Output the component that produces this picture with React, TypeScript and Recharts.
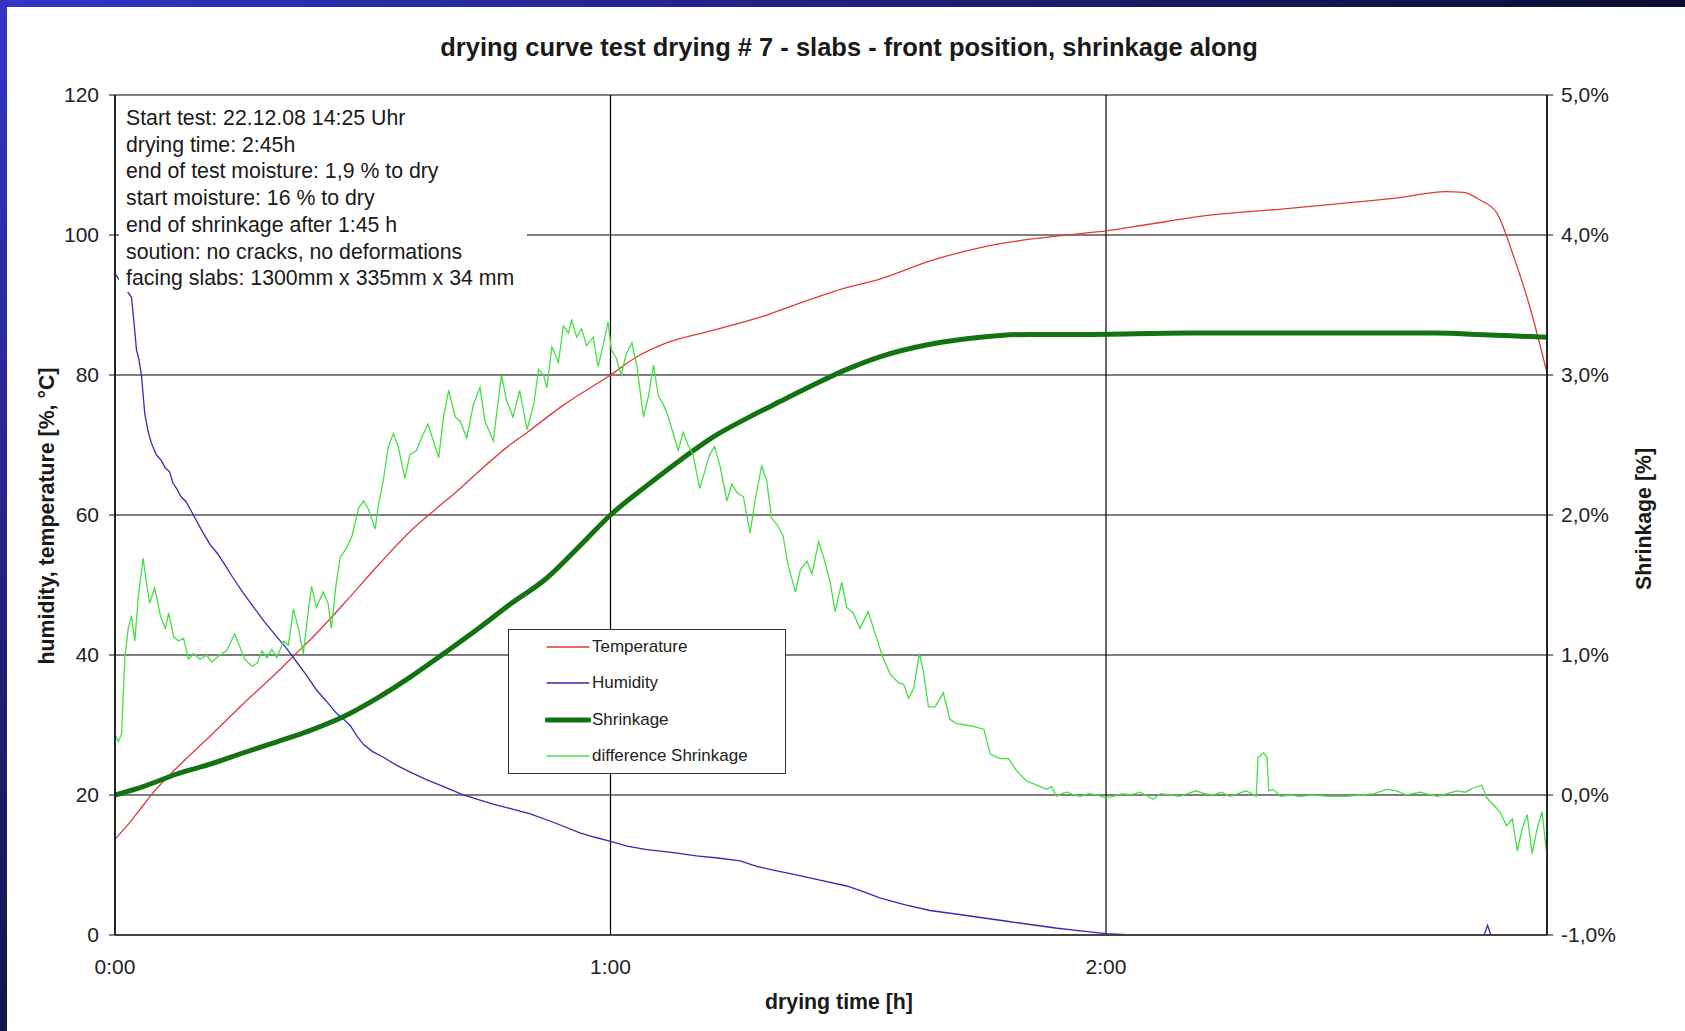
import React from 'react';
import { LineChart, Line, XAxis, YAxis, CartesianGrid, Legend } from 'recharts';

// Excel-style export of a drying test: temperature + humidity on the left
// axis, shrinkage (and its difference curve) on the right axis in percent.

const W = 1685;
const H = 1031;
const FONT = "'Liberation Sans', Arial, sans-serif";

const TEMP_COLOR = '#e03a3a';
const HUM_COLOR = '#2e2eb4';
const SHRINK_COLOR = '#137313';
const DIFF_COLOR = '#45e045';

const xTicks = [0, 60, 120];
const xTickLabels = ['0:00', '1:00', '2:00'];
const leftTicks = [0, 20, 40, 60, 80, 100, 120];
const rightTicks = [-1, 0, 1, 2, 3, 4, 5];
const rightTickLabels = ['-1,0%', '0,0%', '1,0%', '2,0%', '3,0%', '4,0%', '5,0%'];

const infoLines = [
  'Start test: 22.12.08 14:25 Uhr',
  'drying time: 2:45h',
  'end of test moisture: 1,9 % to dry',
  'start moisture: 16 % to dry',
  'end of shrinkage after 1:45 h',
  'soution: no cracks, no deformations',
  'facing slabs: 1300mm x 335mm x 34 mm',
];

// [minute, °C]
const temperature: [number, number][] = [
  [0, 13.7], [1.8, 16.1], [3.4, 18.5], [4.6, 20.3], [7.5, 23.9], [11.5, 28.4],
  [15.5, 33.0], [19.6, 37.5], [22.0, 40.3], [24.0, 42.6], [26.0, 45.1], [28.0, 47.7],
  [31.7, 52.6], [35.7, 57.6], [38.6, 60.6], [41.8, 63.8], [44.2, 66.4], [47.8, 70.0],
  [49.9, 71.8], [54.3, 75.7], [60.0, 80.0], [63.2, 82.6], [66.4, 84.4], [72.5, 86.4],
  [78.5, 88.4], [82.5, 90.1], [88.6, 92.5], [92.6, 93.7], [98.7, 96.3], [104.8, 98.2],
  [110.8, 99.4], [116.9, 100.2], [120.0, 100.6], [125.0, 101.5], [133.1, 102.9],
  [141.2, 103.7], [149.2, 104.6], [155.3, 105.3], [161.1, 106.2], [163.3, 106.1],
  [165.3, 105.0], [167.3, 103.2], [169.4, 96.8], [171.4, 89.4], [173.4, 80.3],
];

// [minute, %] (null = gap)
const humidity: [number, number | null][] = [
  [0, 94.5], [2.0, 91.1], [2.3, 87.5], [2.6, 83.6], [2.9, 82.2], [3.2, 80.0], [3.6, 74.5],
  [4.0, 72.0], [4.4, 70.3], [5.0, 68.6], [5.6, 67.8], [6.1, 66.7], [6.6, 66.2], [7.0, 64.6],
  [7.5, 63.7], [8.0, 62.6], [8.6, 61.9], [9.5, 60.0], [10.5, 57.8], [11.5, 55.8],
  [12.4, 54.5], [13.3, 52.9], [14.3, 51.0], [15.5, 48.9], [16.8, 46.8], [18.2, 44.6],
  [19.6, 42.6], [20.8, 40.9], [22.0, 39.0], [23.2, 37.1], [24.4, 35.0], [25.6, 33.4],
  [26.8, 31.7], [27.7, 30.8], [28.5, 29.9], [29.3, 28.4], [30.1, 27.2], [31.2, 26.2],
  [32.5, 25.4], [34.0, 24.3], [35.7, 23.3], [37.7, 22.2], [39.8, 21.2], [41.8, 20.2],
  [43.8, 19.4], [45.8, 18.7], [47.8, 18.1], [50.3, 17.3], [53.3, 16.0], [56.3, 14.6],
  [58.0, 14.0], [59.9, 13.4], [62.0, 12.7], [64.4, 12.2], [67.4, 11.8], [70.4, 11.3],
  [73.0, 11.0], [75.7, 10.6], [76.7, 10.2], [77.7, 9.8], [80.0, 9.2], [82.5, 8.6],
  [85.5, 7.8], [88.6, 7.0], [90.6, 6.2], [92.6, 5.3], [95.7, 4.3], [98.7, 3.5],
  [101.8, 3.0], [104.8, 2.5], [107.8, 2.0], [110.8, 1.5], [113.9, 1.0], [116.9, 0.6],
  [120.0, 0.2], [123.3, 0], [144.0, null], [165.8, 0], [166.2, 1.4], [166.6, 0],
];

// [minute, % shrinkage]
const shrinkage: [number, number][] = [
  [0, 0.0], [3.4, 0.06], [7.5, 0.15], [11.5, 0.22], [15.5, 0.3], [19.6, 0.38],
  [23.6, 0.46], [27.7, 0.56], [31.7, 0.69], [35.7, 0.84], [39.8, 1.01], [43.8, 1.18],
  [47.8, 1.36], [52.3, 1.55], [56.3, 1.78], [60.0, 2.0], [64.4, 2.21], [68.4, 2.39],
  [72.5, 2.56], [76.5, 2.69], [80.5, 2.81], [84.6, 2.93], [88.6, 3.04], [92.6, 3.13],
  [98.7, 3.22], [104.8, 3.27], [110.8, 3.29], [116.9, 3.29], [130, 3.3], [145, 3.3],
  [160, 3.3], [165, 3.29], [169, 3.28], [173.4, 3.27],
];

// [minute, %] difference shrinkage
const diffShrinkage: [number, number][] = [
  [0, 0.44], [0.4, 0.38], [0.8, 0.44], [1.2, 0.98], [1.6, 1.19], [2.0, 1.28], [2.4, 1.1],
  [2.8, 1.4], [3.4, 1.69], [3.8, 1.52], [4.2, 1.37], [4.8, 1.48], [5.5, 1.28], [6.1, 1.19],
  [6.5, 1.3], [7.1, 1.13], [7.7, 1.1], [8.3, 1.12], [8.9, 0.97], [9.5, 1.01], [10.3, 0.97],
  [11.1, 1.0], [11.7, 0.95], [12.7, 1.0], [13.5, 1.03], [14.5, 1.15], [15.1, 1.06],
  [15.7, 0.97], [16.6, 0.92], [17.2, 0.94], [17.8, 1.03], [18.4, 0.98], [19.0, 1.04],
  [19.6, 0.98], [20.4, 1.1], [21.0, 1.07], [21.6, 1.33], [22.2, 1.19], [22.8, 1.01],
  [23.4, 1.31], [23.8, 1.49], [24.4, 1.34], [25.2, 1.45], [25.8, 1.37], [26.2, 1.19],
  [26.8, 1.52], [27.3, 1.7], [28.0, 1.76], [28.7, 1.85], [29.5, 2.05], [30.1, 2.1],
  [30.7, 2.04], [31.5, 1.9], [31.9, 2.07], [32.5, 2.25], [33.1, 2.49], [33.7, 2.58],
  [34.3, 2.49], [35.1, 2.26], [35.7, 2.43], [36.5, 2.46], [37.1, 2.55], [37.9, 2.65],
  [38.6, 2.52], [39.2, 2.41], [39.8, 2.71], [40.4, 2.89], [41.2, 2.7], [41.8, 2.67],
  [42.6, 2.55], [43.4, 2.79], [44.2, 2.91], [44.8, 2.67], [45.8, 2.53], [46.8, 3.0],
  [47.4, 2.82], [48.2, 2.7], [49.0, 2.89], [49.9, 2.61], [50.7, 2.79], [51.3, 3.04],
  [51.9, 3.0], [52.3, 2.91], [52.9, 3.2], [53.7, 3.09], [54.3, 3.35], [54.9, 3.3],
  [55.3, 3.39], [55.9, 3.27], [56.5, 3.33], [57.1, 3.21], [57.9, 3.27], [58.5, 3.06],
  [59.1, 3.21], [59.7, 3.38], [60.1, 3.18], [60.7, 3.12], [61.3, 3.0], [61.9, 3.15],
  [62.6, 3.23], [63.2, 3.06], [64.0, 2.7], [64.6, 2.85], [65.2, 3.07], [65.8, 2.85],
  [66.4, 2.79], [67.0, 2.7], [67.6, 2.58], [68.2, 2.46], [68.8, 2.59], [69.4, 2.5],
  [70.0, 2.43], [70.8, 2.19], [71.4, 2.31], [72.0, 2.43], [72.6, 2.49], [73.3, 2.34],
  [74.1, 2.1], [74.7, 2.22], [75.3, 2.16], [76.1, 2.13], [76.9, 1.87], [77.5, 2.1],
  [78.3, 2.35], [78.9, 2.25], [79.5, 1.98], [80.3, 1.92], [80.9, 1.85], [81.5, 1.64],
  [82.4, 1.45], [83.0, 1.61], [83.8, 1.67], [84.4, 1.58], [85.2, 1.81], [85.8, 1.7],
  [86.6, 1.52], [87.2, 1.31], [88.0, 1.52], [88.6, 1.34], [89.4, 1.3], [90.2, 1.19],
  [91.2, 1.31], [92.0, 1.16], [93.0, 0.98], [93.9, 0.86], [94.9, 0.8], [95.5, 0.79],
  [96.1, 0.69], [96.7, 0.76], [97.4, 1.01], [97.9, 0.88], [98.5, 0.63], [99.3, 0.63],
  [100.3, 0.73], [101.1, 0.54], [101.9, 0.51], [102.9, 0.5], [103.9, 0.49], [105.2, 0.47],
  [106.0, 0.29], [107.2, 0.26], [108.2, 0.26], [109.2, 0.17], [110.4, 0.1], [111.6, 0.07],
  [112.8, 0.04], [113.4, 0.06], [114.0, -0.01], [114.6, 0.01], [115.3, 0.02], [116.1, 0.0],
  [116.9, -0.01], [117.9, 0.01], [118.9, 0.0], [119.9, -0.02], [120.9, -0.01], [122.0, 0.01],
  [123.0, 0.0], [124.1, 0.02], [124.8, 0.0], [125.7, -0.03], [126.6, 0.01], [127.8, 0.0],
  [128.9, -0.01], [129.9, 0.01], [130.9, 0.03], [131.9, 0.01], [132.9, 0.0], [134.0, 0.02],
  [135.0, -0.01], [136.0, 0.01], [137.0, 0.03], [137.6, 0.01], [138.2, -0.01], [138.4, 0.27],
  [139.1, 0.3], [139.5, 0.27], [139.7, 0.03], [140.3, 0.04], [141.1, -0.01], [142.3, 0.0],
  [143.5, -0.01], [145.1, 0.0], [147.0, -0.01], [149.1, -0.01], [151.0, 0.0], [152.5, 0.01],
  [154.0, 0.04], [155.2, 0.03], [156.4, 0.0], [158.0, 0.02], [160.1, -0.01], [161.3, 0.01],
  [162.5, 0.03], [163.5, 0.02], [164.5, 0.05], [165.5, 0.07], [166.1, -0.02], [166.9, -0.07],
  [167.7, -0.12], [168.5, -0.22], [169.2, -0.17], [169.8, -0.4], [170.4, -0.24], [171.0, -0.14],
  [171.6, -0.42], [172.2, -0.24], [172.8, -0.12], [173.4, -0.44],
];

const toRows = (pts: [number, number | null][]) => pts.map(([t, v]) => ({ t, v }));

const legendItems = [
  { label: 'Temperature', color: TEMP_COLOR, width: 1.3 },
  { label: 'Humidity', color: HUM_COLOR, width: 1.3 },
  { label: 'Shrinkage', color: SHRINK_COLOR, width: 5 },
  { label: 'difference Shrinkage', color: DIFF_COLOR, width: 1.3 },
];

function LegendBox() {
  return (
    <div
      style={{
        width: 278,
        height: 145,
        boxSizing: 'border-box',
        border: '1.5px solid #333',
        background: '#fff',
        position: 'relative',
        fontFamily: FONT,
      }}
    >
      {legendItems.map((it, i) => (
        <div
          key={it.label}
          style={{ position: 'absolute', left: 36, top: 4 + i * 36.3, height: 26, display: 'flex', alignItems: 'center' }}
        >
          <svg width={46} height={10} style={{ display: 'block' }}>
            <line x1={2} y1={5} x2={44} y2={5} stroke={it.color} strokeWidth={it.width} strokeLinecap="round" />
          </svg>
          <span style={{ marginLeft: 1, fontSize: 17, color: '#222', whiteSpace: 'nowrap' }}>{it.label}</span>
        </div>
      ))}
    </div>
  );
}

const tickStyle = { fill: '#222', fontSize: 21, fontFamily: FONT };
const axisTitle = { position: 'absolute' as const, fontFamily: FONT, fontWeight: 700, fontSize: 21.3, color: '#1a1a1a', whiteSpace: 'nowrap' as const };

export default function App() {
  return (
    <div style={{ position: 'relative', width: W, height: H, background: '#fff', overflow: 'hidden', fontFamily: FONT }}>
      <style>{'body{margin:0}'}</style>
      <div style={{ position: 'absolute', left: 0, top: 0, width: W, height: 7, background: 'linear-gradient(to right, #3434c8, #0d0d32)' }} />
      <div style={{ position: 'absolute', left: 0, top: 0, width: 7, height: H, background: 'linear-gradient(to bottom, #3434c8, #15154a)' }} />

      <div style={{ ...axisTitle, left: 849, top: 47, transform: 'translate(-50%, -50%)', fontSize: 25.5 }}>
        drying curve test drying # 7 - slabs - front position, shrinkage along
      </div>

      <div style={{ position: 'absolute', left: 0, top: 0 }}>
        <LineChart width={W} height={H} margin={{ top: 95, right: 58, bottom: 36, left: 55 }}>
          <CartesianGrid yAxisId="left" stroke="#000" strokeWidth={1.2} />
          <XAxis
            dataKey="t"
            type="number"
            domain={[0, 173.4]}
            ticks={xTicks}
            allowDataOverflow
            tickFormatter={(v) => xTickLabels[xTicks.indexOf(v)] ?? ''}
            tick={tickStyle}
            tickLine={false}
            tickMargin={18}
            height={60}
            axisLine={{ stroke: '#444', strokeWidth: 2.2 }}
          />
          <YAxis
            yAxisId="left"
            domain={[0, 120]}
            ticks={leftTicks}
            tick={tickStyle}
            tickSize={6}
            tickMargin={10}
            width={60}
            axisLine={{ stroke: '#111', strokeWidth: 1.5 }}
            tickLine={{ stroke: '#111' }}
          />
          <YAxis
            yAxisId="right"
            orientation="right"
            domain={[-1, 5]}
            ticks={rightTicks}
            tickFormatter={(v) => rightTickLabels[rightTicks.indexOf(v)] ?? ''}
            tick={{ ...tickStyle, textAnchor: 'start' }}
            tickSize={6}
            tickMargin={8}
            width={80}
            axisLine={{ stroke: '#111', strokeWidth: 1.5 }}
            tickLine={{ stroke: '#111' }}
          />
          <Line
            yAxisId="left"
            data={toRows(temperature)}
            dataKey="v"
            name="Temperature"
            type="monotone"
            stroke={TEMP_COLOR}
            strokeWidth={1.3}
            dot={false}
            isAnimationActive={false}
          />
          <Line
            yAxisId="left"
            data={toRows(humidity)}
            dataKey="v"
            name="Humidity"
            type="linear"
            stroke={HUM_COLOR}
            strokeWidth={1.3}
            dot={false}
            connectNulls={false}
            isAnimationActive={false}
          />
          <Line
            yAxisId="right"
            data={toRows(shrinkage)}
            dataKey="v"
            name="Shrinkage"
            type="monotone"
            stroke={SHRINK_COLOR}
            strokeWidth={5}
            dot={false}
            isAnimationActive={false}
          />
          <Line
            yAxisId="right"
            data={toRows(diffShrinkage)}
            dataKey="v"
            name="difference Shrinkage"
            type="linear"
            stroke={DIFF_COLOR}
            strokeWidth={1.3}
            dot={false}
            isAnimationActive={false}
          />
          <Legend
            layout="vertical"
            align="center"
            verticalAlign="middle"
            content={() => <LegendBox />}
            wrapperStyle={{ left: 508, top: 629, width: 278, height: 145 }}
          />
        </LineChart>
      </div>

      {/* info block, white box covering the grid like in the Excel sheet */}
      <div
        style={{
          position: 'absolute',
          left: 119,
          top: 97,
          width: 408,
          height: 195,
          background: '#fff',
          boxSizing: 'border-box',
          padding: '8px 0 0 7px',
          fontSize: 21.3,
          lineHeight: '26.7px',
          color: '#1a1a1a',
          whiteSpace: 'nowrap',
        }}
      >
        {infoLines.map((l) => (
          <div key={l}>{l}</div>
        ))}
      </div>

      <div style={{ ...axisTitle, left: 839, top: 1002, transform: 'translate(-50%, -50%)' }}>drying time [h]</div>
      <div style={{ ...axisTitle, left: 47, top: 516, transform: 'translate(-50%, -50%) rotate(-90deg)' }}>
        humidity, temperature [%, °C]
      </div>
      <div style={{ ...axisTitle, left: 1644, top: 519, transform: 'translate(-50%, -50%) rotate(-90deg)' }}>
        Shrinkage [%]
      </div>
    </div>
  );
}
